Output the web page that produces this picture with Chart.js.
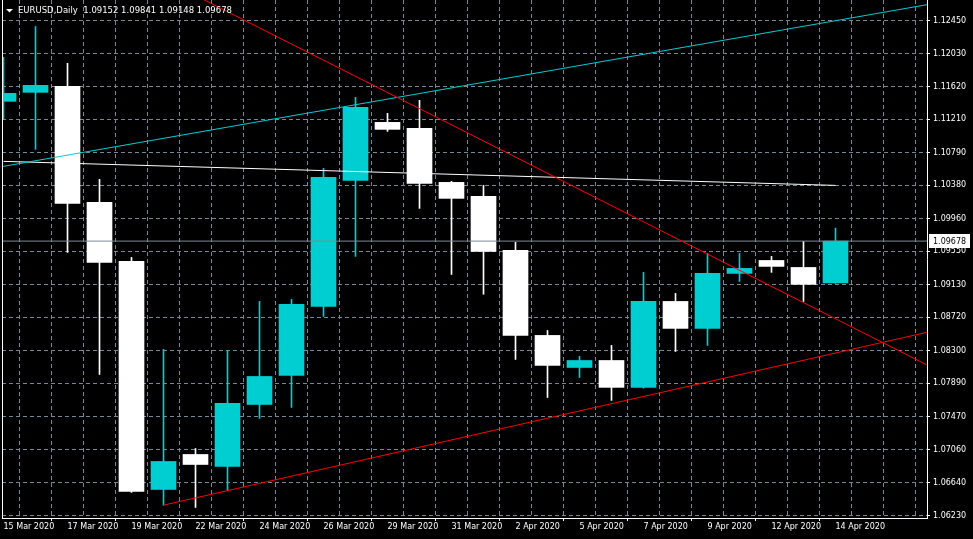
<!DOCTYPE html>
<html>
<head>
<meta charset="utf-8">
<script src="https://cdn.jsdelivr.net/npm/chart.js@4.4.1/dist/chart.umd.min.js"></script>
<style>
  html, body { margin: 0; padding: 0; background: #000; }
  canvas { display: block; }
</style>
</head>
<body>
<canvas id="grafico" width="973" height="539"></canvas>
<script>
// EURUSD daily candles, 15 Mar - 14 Apr 2020
const fechas = ['15 Mar 2020', '16 Mar 2020', '17 Mar 2020', '18 Mar 2020', '19 Mar 2020', '20 Mar 2020',
  '22 Mar 2020', '23 Mar 2020', '24 Mar 2020', '25 Mar 2020', '26 Mar 2020', '27 Mar 2020',
  '29 Mar 2020', '30 Mar 2020', '31 Mar 2020', '1 Apr 2020', '2 Apr 2020', '3 Apr 2020',
  '5 Apr 2020', '6 Apr 2020', '7 Apr 2020', '8 Apr 2020', '9 Apr 2020', '10 Apr 2020',
  '12 Apr 2020', '13 Apr 2020', '14 Apr 2020'];
const aperturas = [1.11434, 1.11547, 1.11623, 1.10164, 1.09423, 1.06557, 1.06997, 1.06846, 1.07625,
  1.07990, 1.08857, 1.10441, 1.11170, 1.11095, 1.10416, 1.10240, 1.09561, 1.08493, 1.08090,
  1.08178, 1.07840, 1.08920, 1.08581, 1.09272, 1.09435, 1.09347, 1.09152];
const maximos = [1.11987, 1.12375, 1.11912, 1.10454, 1.09473, 1.08317, 1.07072, 1.08304, 1.08920,
  1.08945, 1.10592, 1.11484, 1.11283, 1.11447, 1.10429, 1.10378, 1.09662, 1.08555, 1.08229,
  1.08367, 1.09285, 1.09021, 1.09523, 1.09523, 1.09486, 1.09674, 1.09841];
const minimos = [1.11208, 1.10831, 1.09536, 1.08002, 1.06520, 1.06360, 1.06331, 1.06544, 1.07449,
  1.07588, 1.08731, 1.09486, 1.11057, 1.10089, 1.09259, 1.09010, 1.08191, 1.07713, 1.07965,
  1.07676, 1.07830, 1.08291, 1.08367, 1.09171, 1.09285, 1.08920, 1.09148];
const cierres = [1.11535, 1.11635, 1.10152, 1.09410, 1.06532, 1.06909, 1.06871, 1.07638, 1.07977,
  1.08882, 1.10479, 1.11359, 1.11082, 1.10403, 1.10215, 1.09548, 1.08493, 1.08116, 1.08178,
  1.07840, 1.08920, 1.08581, 1.09272, 1.09335, 1.09360, 1.09134, 1.09678];

const ticksPrecio = [1.06230, 1.06640, 1.07060, 1.07470, 1.07890, 1.08300, 1.08720, 1.09130,
  1.09550, 1.09960, 1.10380, 1.10790, 1.11210, 1.11620, 1.12030, 1.12450];

// lines drawn on the chart: [bar index, price]
const lineaCian = [[-1, 1.10547], [30, 1.12729]];
const lineaBlanca = [[0, 1.10680], [26, 1.10378]];
const lineaRojaBaja = [[5, 1.12967], [30, 1.07890]];
const lineaRojaSube = [[5, 1.06360], [30, 1.08636]];

const ultimo = cierres.length - 1;
const colorVela = cierres.map((c, i) => c >= aperturas[i] ? '#00ced1' : '#ffffff');
const aPuntos = arr => arr.map(p => ({x: p[0], y: p[1]}));
const fuente = {family: 'DejaVu Sans', size: 8};

const extras = {
    id: 'extras',
    afterDraw(chart) {
        const ctx = chart.ctx;
        const area = chart.chartArea;
        ctx.save();
        ctx.strokeStyle = '#ffffff';
        ctx.lineWidth = 1;
        ctx.beginPath();
        ctx.moveTo(area.left + 0.5, 0);
        ctx.lineTo(area.left + 0.5, area.bottom);
        ctx.stroke();

        // current price label
        const precio = cierres[ultimo];
        const py = Math.round(chart.scales.y.getPixelForValue(precio));
        ctx.fillStyle = '#ffffff';
        ctx.fillRect(area.right + 2, py - 7, 41, 14);
        ctx.fillStyle = '#000000';
        ctx.font = '8px "DejaVu Sans"';
        ctx.textAlign = 'left';
        ctx.textBaseline = 'middle';
        ctx.fillText(precio.toFixed(5), area.right + 6, py + 0.5);

        // title
        ctx.fillStyle = '#ffffff';
        ctx.beginPath();
        ctx.moveTo(6, 9);
        ctx.lineTo(13, 9);
        ctx.lineTo(9.5, 12.5);
        ctx.closePath();
        ctx.fill();
        const ohlc = [aperturas[ultimo], maximos[ultimo], minimos[ultimo], cierres[ultimo]];
        ctx.font = '8.5px "DejaVu Sans"';
        ctx.textBaseline = 'alphabetic';
        ctx.fillText('EURUSD,Daily  ' + ohlc.map(v => v.toFixed(5)).join(' '), 18, 12.5);
        ctx.restore();
    }
};

const ctx = document.getElementById('grafico').getContext('2d');
new Chart(ctx, {
    type: 'bar',
    data: {
        datasets: [
            { type: 'line', data: aPuntos(lineaRojaBaja), borderColor: '#ff0000', borderWidth: 1, pointRadius: 0, order: 0 },
            { type: 'line', data: aPuntos(lineaRojaSube), borderColor: '#ff0000', borderWidth: 1, pointRadius: 0, order: 0 },
            { type: 'line', data: aPuntos(lineaCian), borderColor: '#00ced1', borderWidth: 1, pointRadius: 0, order: 0 },
            { type: 'line', data: aPuntos(lineaBlanca), borderColor: '#ffffff', borderWidth: 1, pointRadius: 0, order: 0 },
            { type: 'line', data: [{x: -1, y: cierres[ultimo]}, {x: 30, y: cierres[ultimo]}],
              borderColor: '#7f8a96', borderWidth: 1, pointRadius: 0, order: 1 },
            {
                data: fechas.map((f, i) => ({x: i, y: [aperturas[i], cierres[i]]})),
                backgroundColor: colorVela,
                borderWidth: 0,
                barThickness: 25,
                grouped: false,
                order: 2
            },
            {
                data: fechas.map((f, i) => ({x: i, y: [minimos[i], maximos[i]]})),
                backgroundColor: colorVela,
                borderWidth: 0,
                barThickness: 1,
                grouped: false,
                order: 3
            }
        ]
    },
    options: {
        responsive: false,
        animation: false,
        devicePixelRatio: 1,
        layout: { padding: { left: 2, top: 0, right: 0, bottom: 0 } },
        plugins: { legend: { display: false }, tooltip: { enabled: false } },
        scales: {
            x: {
                type: 'linear',
                min: -0.046875,
                max: 28.859375,
                offset: false,
                afterBuildTicks: s => { s.ticks = Array.from({length: 29}, (v, i) => ({value: i})); },
                afterFit: s => { s.height = 21; s.paddingLeft = 0; s.paddingRight = 0; },
                grid: {
                    color: '#778899',
                    lineWidth: 1,
                    tickLength: 3,
                    tickBorderDash: [],
                    tickColor: c => (c.tick && c.tick.value % 2 === 0 && c.tick.value < fechas.length) ? '#ffffff' : 'rgba(0,0,0,0)'
                },
                border: { display: true, color: '#ffffff', width: 1, dash: [4, 3] },
                ticks: {
                    color: '#ffffff',
                    font: fuente,
                    autoSkip: false,
                    maxRotation: 0,
                    minRotation: 0,
                    align: 'start',
                    padding: 1,
                    callback: v => (v % 2 === 0 && fechas[v]) ? fechas[v] : ''
                }
            },
            y: {
                type: 'linear',
                position: 'right',
                min: 1.061986,
                max: 1.127076,
                afterBuildTicks: s => { s.ticks = ticksPrecio.map(v => ({value: v})); },
                afterFit: s => { s.width = 46; s.paddingTop = 0; s.paddingBottom = 0; },
                grid: {
                    color: '#778899',
                    lineWidth: 1,
                    tickLength: 3,
                    tickBorderDash: [],
                    tickColor: '#ffffff'
                },
                border: { display: true, color: '#ffffff', width: 1, dash: [4, 3] },
                ticks: {
                    color: '#ffffff',
                    font: fuente,
                    padding: 3,
                    callback: v => v.toFixed(5)
                }
            }
        }
    },
    plugins: [extras]
});
</script>
</body>
</html>
